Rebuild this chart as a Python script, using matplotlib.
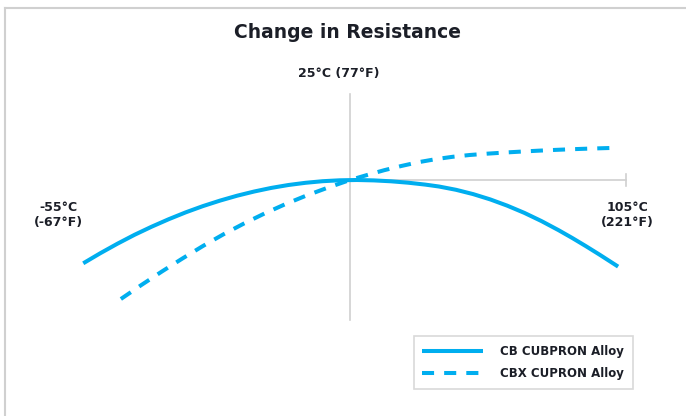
import matplotlib
matplotlib.use('Agg')
from matplotlib import pyplot as plt
from matplotlib.lines import Line2D

# temperature (deg C) vs relative change in resistance (arbitrary units, 0 at 25 C)
cb_temp = [-53, -48, -43, -38, -33, -28, -23, -18, -13, -8, -3, 2, 7, 12, 17, 22, 27,
           32, 37, 42, 47, 51, 56, 61, 66, 71, 76, 81, 86, 90, 94, 98, 103.4]
cb_res = [-0.833, -0.732, -0.637, -0.548, -0.467, -0.392, -0.323, -0.261, -0.206,
          -0.157, -0.115, -0.079, -0.050, -0.028, -0.012, -0.003, 0.0, -0.004, -0.013,
          -0.027, -0.046, -0.065, -0.098, -0.141, -0.194, -0.257, -0.329, -0.411,
          -0.502, -0.580, -0.662, -0.747, -0.866]

cbx_temp = [-42, -36, -30, -24, -18, -12, -6, 0, 6, 12, 18, 25, 30, 35, 40, 45, 50,
            55, 60, 65, 70, 75, 80, 85, 90, 95, 101]
cbx_res = [-1.19, -1.05, -0.915, -0.785, -0.66, -0.543, -0.435, -0.335, -0.243,
           -0.159, -0.083, 0.0, 0.05, 0.098, 0.14, 0.178, 0.208, 0.232, 0.25, 0.263,
           0.274, 0.284, 0.293, 0.301, 0.308, 0.314, 0.32]

series_names = ['CB CUBPRON Alloy', 'CBX CUPRON Alloy']
title = 'Change in Resistance'
ref_label = '25°C (77°F)'
low_label = '-55°C\n(-67°F)'
high_label = '105°C\n(221°F)'
t_ref, t_low, t_high = 25, -55, 105

blue = '#00aeef'
grey = '#d0d0d0'
ink = '#1b1e27'

fig = plt.figure(figsize=(6.86, 4.16), dpi=100)
ax = fig.add_axes([0, 0, 1, 1])
ax.set_xlim(-77.34, 123.25)
ax.set_ylim(-2.36, 1.8)
ax.axis('off')

# outer frame (top and left edges)
fig.add_artist(Line2D([5 / 686, 1], [1 - 8 / 416, 1 - 8 / 416], transform=fig.transFigure,
                      color=grey, lw=1.5))
fig.add_artist(Line2D([5 / 686, 5 / 686], [0, 1 - 8 / 416], transform=fig.transFigure,
                      color=grey, lw=1.5))

# reference axes
ax.plot([t_ref, t_ref], [0.86, -1.40], color=grey, lw=1.2, zorder=1)
ax.plot([t_ref, t_high + 0.7], [0, 0], color=grey, lw=1.2, zorder=1)
ax.plot([t_high + 0.7, t_high + 0.7], [0.06, -0.06], color=grey, lw=1.2, zorder=1)

ax.plot(cb_temp, cb_res, color=blue, lw=2.9, solid_capstyle='butt',
        solid_joinstyle='round', label=series_names[0], zorder=3)
ax.plot(cbx_temp, cbx_res, color=blue, lw=2.9, dashes=(3, 2.5), dash_capstyle='butt',
        label=series_names[1], zorder=3)

fig.text(347 / 686, 1 - 33 / 416, title, ha='center', va='center',
         fontsize=13.5, fontweight='bold', color=ink)
fig.text(339 / 686, 1 - 74 / 416, ref_label, ha='center', va='center',
         fontsize=9, fontweight='bold', color=ink)
fig.text(58 / 686, 1 - 215 / 416, low_label, ha='center', va='center',
         fontsize=9, fontweight='bold', color=ink, linespacing=1.25)
fig.text(627 / 686, 1 - 215 / 416, high_label, ha='center', va='center',
         fontsize=9, fontweight='bold', color=ink, linespacing=1.25)

leg = ax.legend(loc='lower right', bbox_to_anchor=(633 / 686, 1 - 389 / 416),
                bbox_transform=fig.transFigure, borderaxespad=0,
                frameon=True, fancybox=False, edgecolor=grey,
                prop={'weight': 'bold', 'size': 8.5},
                handlelength=5.1, handletextpad=1.5, borderpad=0.75,
                labelspacing=0.8, labelcolor=ink)
leg.get_frame().set_linewidth(1.2)

fig.savefig('out.png', dpi=100, facecolor='white')
